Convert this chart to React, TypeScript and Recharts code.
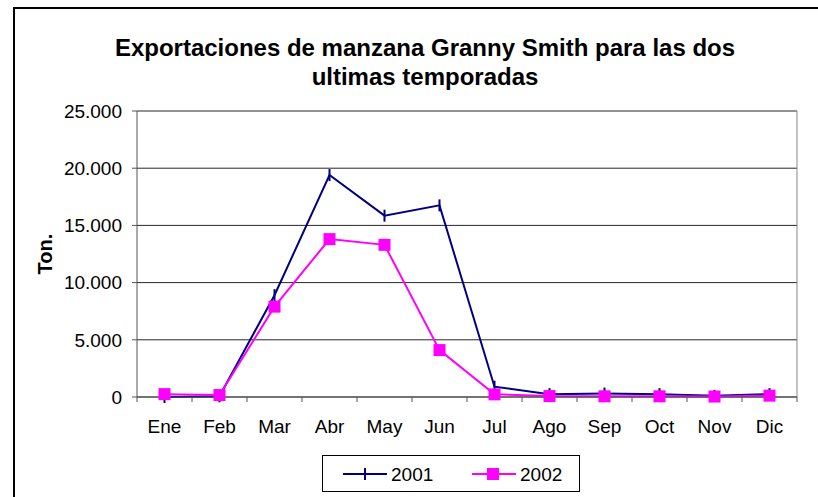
import { CartesianGrid, Line, LineChart, XAxis, YAxis } from "recharts";

const months = ["Ene", "Feb", "Mar", "Abr", "May", "Jun", "Jul", "Ago", "Sep", "Oct", "Nov", "Dic"];
const exports2001 = [0, 60, 8900, 19400, 15850, 16750, 900, 250, 300, 250, 100, 250];
const exports2002 = [250, 170, 7900, 13800, 13300, 4100, 230, 80, 60, 60, 40, 120];
const yTicks = [0, 5000, 10000, 15000, 20000, 25000];

const data = months.map((m, i) => ({ month: m, y2001: exports2001[i], y2002: exports2002[i] }));

const FONT = '"Liberation Sans", Arial, sans-serif';
const NAVY = "#000080";
const MAGENTA = "#FF00FF";
const HALF_BAND = 27.5;
const AXIS_FONT = 19;

const fmt = (v: number) => String(v).replace(/\B(?=(\d{3})+(?!\d))/g, ".");

function MonthTick(props: any) {
  const { x, y, payload, index } = props;
  return (
    <g>
      <line x1={x - HALF_BAND} x2={x - HALF_BAND} y1={y - 5} y2={y} stroke="#555" />
      {index === months.length - 1 && (
        <line x1={x + HALF_BAND} x2={x + HALF_BAND} y1={y - 5} y2={y} stroke="#555" />
      )}
      <text x={x} y={y + 31} textAnchor="middle" fontSize={AXIS_FONT} fill="#000" fontFamily={FONT}>
        {payload.value}
      </text>
    </g>
  );
}

function PlusDot(props: any) {
  const { cx, cy, index } = props;
  return <line key={`p${index}`} x1={cx} x2={cx} y1={cy - 6} y2={cy + 6} stroke={NAVY} strokeWidth={2} />;
}

function SquareDot(props: any) {
  const { cx, cy, index } = props;
  return <rect key={`s${index}`} x={cx - 6} y={cy - 6} width={12} height={12} fill={MAGENTA} />;
}

function LegendBox() {
  return (
    <div
      style={{
        position: "absolute",
        left: 322,
        top: 455,
        border: "1px solid #000",
        width: 256,
        height: 35,
        background: "#fff",
        boxSizing: "content-box",
      }}
    >
      <svg width={256} height={35}>
        <line x1={20} x2={64} y1={18} y2={18} stroke={NAVY} strokeWidth={2} />
        <line x1={42} x2={42} y1={12} y2={24} stroke={NAVY} strokeWidth={2} />
        <text x={68} y={25} fontSize={AXIS_FONT} fontFamily={FONT}>2001</text>
        <line x1={149} x2={193} y1={18} y2={18} stroke={MAGENTA} strokeWidth={2} />
        <rect x={164} y={12} width={12} height={12} fill={MAGENTA} />
        <text x={197} y={25} fontSize={AXIS_FONT} fontFamily={FONT}>2002</text>
      </svg>
    </div>
  );
}

export default function App() {
  return (
    <div
      style={{
        position: "fixed",
        left: 0,
        top: 0,
        width: 818,
        height: 497,
        overflow: "hidden",
        background: "#fff",
        fontFamily: FONT,
      }}
    >
      <div
        style={{
          position: "absolute",
          left: 13,
          top: 33,
          width: 824,
          textAlign: "center",
          fontWeight: "bold",
          fontSize: 24,
          lineHeight: "29px",
        }}
      >
        Exportaciones de manzana Granny Smith para las dos
        <br />
        ultimas temporadas
      </div>
      <LineChart
        width={818}
        height={497}
        data={data}
        margin={{ top: 111, right: 21, left: 37, bottom: 70 }}
        style={{ position: "absolute", left: 0, top: 0 }}
      >
        <CartesianGrid horizontal vertical={false} stroke="#000" strokeOpacity={0.85} />
        <CartesianGrid
          horizontal={false}
          vertical
          stroke="#888"
          verticalCoordinatesGenerator={({ offset }: any) => [offset.left + offset.width]}
        />
        <XAxis
          dataKey="month"
          padding={{ left: HALF_BAND, right: HALF_BAND }}
          stroke="#555"
          tickLine={false}
          tickSize={5}
          tickMargin={0}
          height={30}
          tick={<MonthTick />}
          interval={0}
        />
        <YAxis
          domain={[0, 25000]}
          ticks={yTicks}
          width={100}
          stroke="#555"
          tickSize={5}
          tickMargin={10}
          tickFormatter={fmt}
          tick={{ fontSize: AXIS_FONT, fill: "#000", fontFamily: FONT }}
          label={(p: any) => {
            const vb = p.viewBox;
            const cx = vb.x + 8;
            const cy = vb.y + vb.height / 2;
            return (
              <text
                x={cx}
                y={cy}
                transform={`rotate(-90, ${cx}, ${cy})`}
                textAnchor="middle"
                dominantBaseline="central"
                fontSize={20}
                fontWeight="bold"
                fontFamily={FONT}
              >
                Ton.
              </text>
            );
          }}
        />
        <Line
          dataKey="y2001"
          stroke={NAVY}
          strokeWidth={2}
          dot={<PlusDot />}
          activeDot={false}
          isAnimationActive={false}
        />
        <Line
          dataKey="y2002"
          stroke={MAGENTA}
          strokeWidth={2}
          dot={<SquareDot />}
          activeDot={false}
          isAnimationActive={false}
        />
      </LineChart>
      <LegendBox />
      <div
        style={{
          position: "absolute",
          left: 13,
          top: 7,
          width: 900,
          height: 600,
          borderTop: "2px solid #000",
          borderLeft: "2px solid #000",
          zIndex: 2,
          pointerEvents: "none",
        }}
      />
    </div>
  );
}
